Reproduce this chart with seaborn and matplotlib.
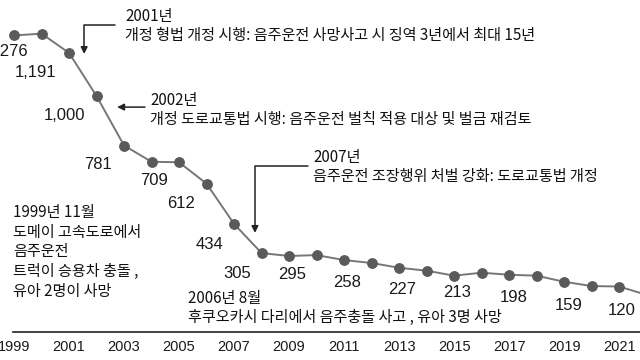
import matplotlib
matplotlib.use("Agg")
import matplotlib.pyplot as plt
import seaborn as sns
import pandas as pd

# Yearly values
years = list(range(1999, 2023))
deaths = [1268, 1276, 1191, 1000, 781, 709, 707, 612, 434, 305, 292, 296,
          274, 261, 240, 227, 205, 218, 209, 205, 178, 159, 157, 120]

# Value labels (text, x position in years, y position in data units)
label_text = ["1,276", "1,191", "1,000", "781", "709", "612", "434", "305",
              "295", "258", "227", "213", "198", "159", "120"]
label_x = [1998.75, 1999.8, 2000.82, 2002.05, 2004.09, 2005.07, 2006.09, 2007.1,
           2009.1, 2011.1, 2013.1, 2015.1, 2017.15, 2019.15, 2021.1]
label_y = [1195, 1106, 916, 695, 624, 526, 345, 216,
           208, 176, 145, 132, 110, 75, 53]

tick_years = list(range(1999, 2022, 2))

df = pd.DataFrame({"year": years, "deaths": deaths})

sns.set_style("white")
plt.rcParams["font.family"] = ["Noto Sans CJK KR", "DejaVu Sans"]

fig = plt.figure(figsize=(6.4, 3.6), dpi=100)
ax = fig.add_axes([0, 0.078, 1, 0.922])

sns.lineplot(data=df, x="year", y="deaths", ax=ax, color="#777777", linewidth=1.4,
             marker="o", markersize=7, markerfacecolor="#5a5a5a",
             markeredgecolor="#5a5a5a")

for t, x, y in zip(label_text, label_x, label_y):
    ax.text(x, y, t, ha="center", va="center", fontsize=12,
            family=["Liberation Sans", "DejaVu Sans"], color="#1a1a1a")

ax.set_xlim(1998.49, 2021.76)
ax.set_ylim(-44, 1425)
ax.set_xticks(tick_years)
ax.set_xticklabels([str(y) for y in tick_years], fontsize=10.5,
                   family=["Liberation Sans", "DejaVu Sans"], color="#1a1a1a")
ax.set_yticks([])
ax.tick_params(axis="x", length=0, pad=6)
ax.set_xlabel("")
ax.set_ylabel("")
for s in ["top", "left", "right"]:
    ax.spines[s].set_visible(False)
ax.spines["bottom"].set_color("#222222")
ax.spines["bottom"].set_linewidth(1.2)
ax.spines["bottom"].set_bounds(1998.96, 2021.76)

txt = dict(fontsize=10.9, color="#111111", ha="left", va="center",
           linespacing=1.15, fontweight="medium")
arr = dict(arrowstyle="-|>", color="#222222", lw=1.1, mutation_scale=10,
           shrinkA=0, shrinkB=0)

# 2001
ax.text(2003.04, 1310, "2001년\n개정 형법 개정 시행: 음주운전 사망사고 시 징역 3년에서 최대 15년", **txt)
ax.annotate("", xy=(2001.55, 1186), xytext=(2002.67, 1314),
            arrowprops=dict(connectionstyle="angle,angleA=0,angleB=90,rad=0", **arr))
# 2002
ax.text(2003.95, 938, "2002년\n개정 도로교통법 시행: 음주운전 벌칙 적용 대상 및 벌금 재검토", **txt)
ax.annotate("", xy=(2002.75, 951), xytext=(2003.76, 951), arrowprops=arr)
# 2007
ax.text(2009.87, 686, "2007년\n음주운전 조장행위 처벌 강화: 도로교통법 개정", **txt)
ax.annotate("", xy=(2007.76, 394), xytext=(2009.69, 690),
            arrowprops=dict(connectionstyle="angle,angleA=0,angleB=90,rad=0", **arr))
# 1999 event
ax.text(1998.96, 310, "1999년 11월\n도메이 고속도로에서\n음주운전\n트럭이 승용차 충돌 ,\n유아 2명이 사망",
        **{**txt, "linespacing": 1.2})
# 2006 event
ax.text(2005.33, 60, "2006년 8월\n후쿠오카시 다리에서 음주충돌 사고 , 유아 3명 사망", **txt)

fig.savefig("out.png", dpi=100)
